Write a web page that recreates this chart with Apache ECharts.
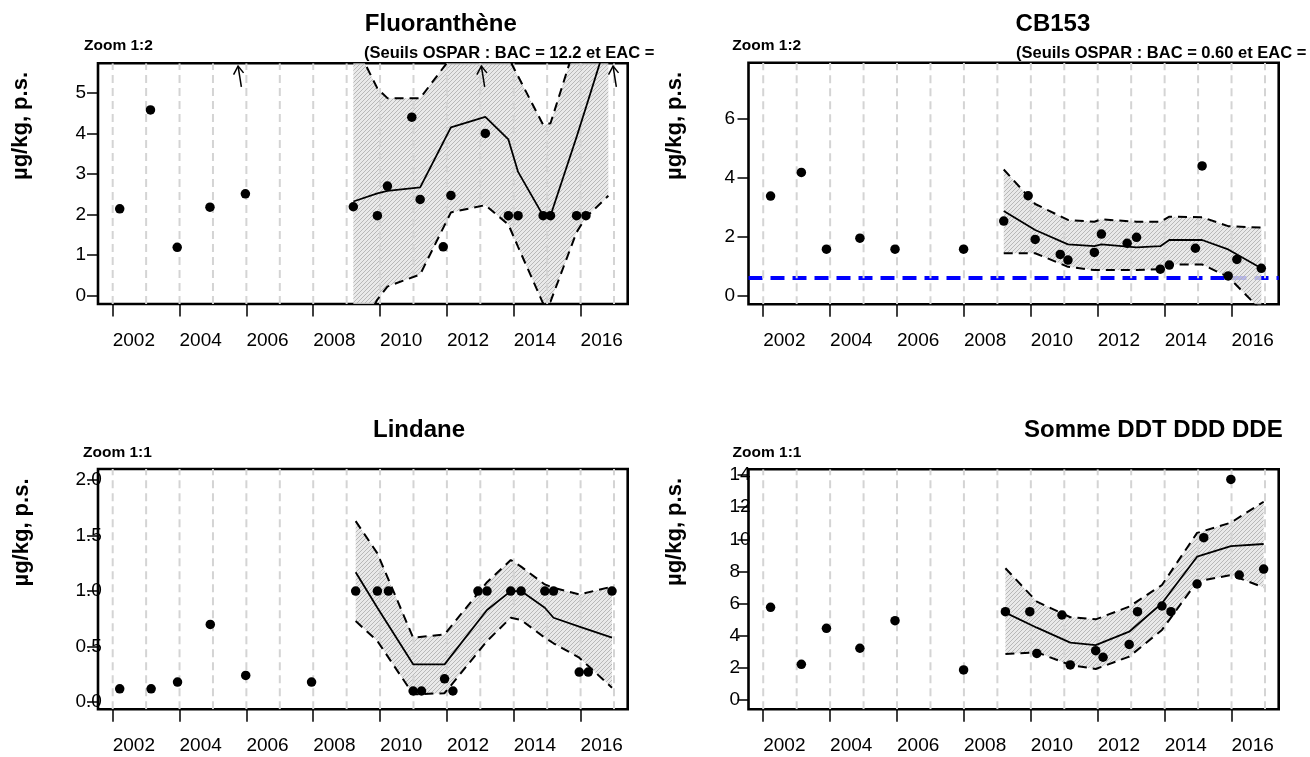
<!DOCTYPE html>
<html><head><meta charset="utf-8">
<script src="https://cdn.jsdelivr.net/npm/echarts@6/dist/echarts.min.js"></script>
<style>html,body{margin:0;padding:0;background:#fff;}#c{width:1310px;height:757px;}</style>
</head><body><div id="c"></div>
<script>
// ---------- data ----------
const yearTicks = [2002, 2004, 2006, 2008, 2010, 2012, 2014, 2016];
const gridYears = [2002, 2003, 2004, 2005, 2006, 2007, 2008, 2009, 2010, 2011, 2012, 2013, 2014, 2015, 2016, 2017];

const fluoYTicks = [0, 1, 2, 3, 4, 5];
const fluoDates = [2002.21, 2003.13, 2003.93, 2004.91, 2005.97, 2009.20, 2009.92, 2010.22, 2010.95, 2011.20, 2011.89, 2012.12, 2013.15, 2013.84, 2014.13, 2014.88, 2015.10, 2015.88, 2016.16];
const fluoValues = [2.14, 4.58, 1.19, 2.18, 2.51, 2.19, 1.97, 2.70, 4.40, 2.37, 1.20, 2.47, 4.00, 1.97, 1.97, 1.97, 1.97, 1.97, 1.97];
const fluoTrendDates = [2009.20, 2009.92, 2010.22, 2011.20, 2012.12, 2013.15, 2013.84, 2014.13, 2014.88, 2015.10, 2015.88, 2016.16, 2016.83];
const fluoMid = [2.32, 2.52, 2.58, 2.67, 4.15, 4.41, 3.85, 3.05, 1.97, 1.97, 3.91, 4.64, 6.40];
const fluoHigh = [6.30, 5.11, 4.87, 4.87, 5.87, 6.30, 5.87, 5.41, 4.21, 4.25, 6.28, 7.03, 8.85];
const fluoLow = [-1.20, -0.10, 0.22, 0.52, 2.05, 2.23, 1.75, 1.20, -0.20, -0.15, 1.56, 1.93, 2.46];
const fluoOutDates = [2005.85, 2013.13, 2017.07];

const cbYTicks = [0, 2, 4, 6];
const cbDates = [2002.22, 2003.14, 2003.89, 2004.89, 2005.94, 2007.99, 2009.19, 2009.92, 2010.13, 2010.88, 2011.11, 2011.90, 2012.11, 2012.88, 2013.16, 2013.87, 2014.14, 2014.92, 2015.12, 2015.90, 2016.16, 2016.89];
const cbValues = [3.38, 4.18, 1.58, 1.95, 1.58, 1.58, 2.53, 3.39, 1.91, 1.40, 1.21, 1.47, 2.09, 1.78, 1.98, 0.90, 1.04, 1.61, 4.40, 0.67, 1.23, 0.93];
const cbTrendDates = [2009.19, 2010.13, 2011.11, 2011.90, 2012.11, 2013.16, 2013.87, 2014.14, 2015.12, 2015.90, 2016.89];
const cbMid = [2.87, 2.23, 1.74, 1.68, 1.74, 1.64, 1.68, 1.89, 1.89, 1.57, 0.93];
const cbHigh = [4.28, 3.11, 2.57, 2.51, 2.59, 2.51, 2.51, 2.68, 2.66, 2.36, 2.31];
const cbLow = [1.44, 1.44, 0.98, 0.87, 0.87, 0.87, 0.90, 1.06, 1.06, 0.64, -0.50];
const cbBAC = 0.60;

const linYTicks = [0, 0.5, 1, 1.5, 2];
const linDates = [2002.21, 2003.15, 2003.94, 2004.92, 2005.98, 2007.95, 2009.27, 2009.92, 2010.25, 2010.99, 2011.24, 2011.93, 2012.18, 2012.93, 2013.20, 2013.91, 2014.22, 2014.93, 2015.19, 2015.96, 2016.23, 2016.94];
const linValues = [0.12, 0.12, 0.18, 0.70, 0.24, 0.18, 1.00, 1.00, 1.00, 0.10, 0.10, 0.21, 0.10, 1.00, 1.00, 1.00, 1.00, 1.00, 1.00, 0.27, 0.27, 1.00];
const linTrendDates = [2009.27, 2009.92, 2010.99, 2011.93, 2013.20, 2013.91, 2014.22, 2014.93, 2015.19, 2015.96, 2016.94];
const linMid = [1.17, 0.85, 0.34, 0.34, 0.83, 1.00, 1.00, 0.85, 0.76, 0.68, 0.58];
const linHigh = [1.63, 1.34, 0.58, 0.61, 1.08, 1.28, 1.22, 1.06, 1.03, 0.97, 1.04];
const linLow = [0.73, 0.55, 0.07, 0.08, 0.55, 0.76, 0.74, 0.58, 0.53, 0.40, 0.13];

const ddtYTicks = [0, 2, 4, 6, 8, 10, 12, 14];
const ddtDates = [2002.22, 2003.14, 2003.89, 2004.89, 2005.94, 2007.99, 2009.24, 2009.97, 2010.18, 2010.93, 2011.18, 2011.94, 2012.16, 2012.94, 2013.19, 2013.92, 2014.19, 2014.97, 2015.17, 2015.98, 2016.23, 2016.96];
const ddtValues = [5.77, 2.22, 4.46, 3.22, 4.94, 1.87, 5.50, 5.50, 2.90, 5.29, 2.18, 3.07, 2.66, 3.46, 5.50, 5.85, 5.50, 7.22, 10.10, 13.73, 7.78, 8.15];
const ddtTrendDates = [2009.24, 2010.18, 2011.18, 2011.94, 2012.94, 2013.92, 2014.97, 2015.98, 2016.96];
const ddtMid = [5.44, 4.50, 3.57, 3.42, 4.25, 6.02, 8.92, 9.58, 9.71];
const ddtHigh = [8.20, 6.12, 5.15, 5.02, 5.81, 7.16, 10.40, 11.04, 12.34];
const ddtLow = [2.86, 2.97, 2.18, 1.93, 2.70, 4.36, 7.37, 7.78, 7.01];

// ---------- layout / style ----------
const FF = '"Liberation Sans", Arial, Helvetica, sans-serif';
const xMin = 2001.56, xMax = 2017.41;
const pair = (xs, ys) => xs.map((x, i) => [x, ys[i]]);

function makeHatch() {
  const c = document.createElement('canvas');
  c.width = 4; c.height = 4;
  const g = c.getContext('2d');
  g.fillStyle = 'rgba(228,228,228,0.8)';
  g.fillRect(0, 0, 4, 4);
  g.strokeStyle = 'rgba(178,178,178,0.9)';
  g.lineWidth = 1;
  g.beginPath();
  g.moveTo(0, 4); g.lineTo(4, 0);
  g.moveTo(-1, 1); g.lineTo(1, -1);
  g.moveTo(3, 5); g.lineTo(5, 3);
  g.stroke();
  return c;
}
const hatch = { image: makeHatch(), repeat: 'repeat' };

const panels = [
  { left: 98, top: 63.3, width: 529.7, height: 240.7, yMin: -0.21, yMax: 5.73, yTicks: fluoYTicks, dec: 0, lm: 22.5,
    dates: fluoDates, values: fluoValues, tDates: fluoTrendDates, mid: fluoMid, high: fluoHigh, low: fluoLow, out: fluoOutDates },
  { left: 748.5, top: 62.7, width: 530.2, height: 241.6, yMin: -0.29, yMax: 7.90, yTicks: cbYTicks, dec: 0, lm: 24,
    dates: cbDates, values: cbValues, tDates: cbTrendDates, mid: cbMid, high: cbHigh, low: cbLow, bac: cbBAC },
  { left: 98, top: 469, width: 529.7, height: 240.3, yMin: -0.065, yMax: 2.10, yTicks: linYTicks, dec: 1, lm: 22.5,
    dates: linDates, values: linValues, tDates: linTrendDates, mid: linMid, high: linHigh, low: linLow },
  { left: 748.5, top: 469.3, width: 530.2, height: 240, yMin: -0.58, yMax: 14.36, yTicks: ddtYTicks, dec: 0, lm: 19,
    dates: ddtDates, values: ddtValues, tDates: ddtTrendDates, mid: ddtMid, high: ddtHigh, low: ddtLow }
];

const grids = [], xAxes = [], yAxes = [], series = [];
panels.forEach((p, i) => {
  grids.push({ left: p.left, top: p.top, width: p.width, height: p.height, show: true,
    borderColor: '#000', borderWidth: 2.6, backgroundColor: 'transparent', containLabel: false });
  xAxes.push({ type: 'value', gridIndex: i, min: xMin, max: xMax, position: 'bottom', z: 1,
    axisLine: { show: false, onZero: false }, splitLine: { show: false },
    axisTick: { show: true, customValues: yearTicks, length: 12.5, lineStyle: { color: '#000', width: 1.5 } },
    axisLabel: { show: true, customValues: yearTicks, align: 'left', margin: 27, fontSize: 19, fontFamily: FF, color: '#000',
      formatter: v => String(Math.round(v)) } });
  yAxes.push({ type: 'value', gridIndex: i, min: p.yMin, max: p.yMax, position: 'left', z: 1,
    axisLine: { show: false, onZero: false }, splitLine: { show: false },
    axisTick: { show: true, customValues: p.yTicks, length: 11, lineStyle: { color: '#000', width: 1.5 } },
    axisLabel: { show: true, customValues: p.yTicks, align: 'left', margin: p.lm, fontSize: 19, fontFamily: FF, color: '#000',
      formatter: v => v.toFixed(p.dec) } });

  // hatched confidence band
  series.push({ type: 'custom', xAxisIndex: i, yAxisIndex: i, z: 2, silent: true, clip: true,
    data: [[p.tDates[0], p.mid[0]]],
    renderItem: (params, api) => {
      const up = p.tDates.map((d, k) => api.coord([d, p.high[k]]));
      const lo = p.tDates.map((d, k) => api.coord([d, p.low[k]])).reverse();
      return { type: 'polygon', shape: { points: up.concat(lo) }, style: { fill: hatch, stroke: null } };
    } });

  // BAC threshold line
  if (p.bac !== undefined) {
    series.push({ type: 'custom', xAxisIndex: i, yAxisIndex: i, z: 1, silent: true, clip: true,
      data: [[xMin, p.bac]],
      renderItem: (params, api) => {
        const a = api.coord([xMin, api.value(1)]), b = api.coord([xMax, api.value(1)]);
        return { type: 'line', shape: { x1: a[0], y1: a[1], x2: b[0], y2: b[1] },
          style: { stroke: '#0000ff', lineWidth: 4, lineDash: [14, 8] } };
      } });
  }

  // vertical dashed grid lines (over the band)
  series.push({ type: 'custom', xAxisIndex: i, yAxisIndex: i, z: 3, silent: true, clip: true,
    data: gridYears.map(y => [y, p.yMin]),
    renderItem: (params, api) => {
      const x = api.value(0);
      const a = api.coord([x, p.yMin]), b = api.coord([x, p.yMax]);
      return { type: 'line', shape: { x1: a[0], y1: a[1], x2: b[0], y2: b[1] },
        style: { stroke: '#d4d4d4', lineWidth: 2, lineDash: [8, 5] } };
    } });

  const dashStyle = { color: '#000', width: 2, type: [9, 6] };
  series.push({ type: 'line', xAxisIndex: i, yAxisIndex: i, z: 4, silent: true, symbol: 'none', clip: true,
    data: pair(p.tDates, p.high), lineStyle: dashStyle });
  series.push({ type: 'line', xAxisIndex: i, yAxisIndex: i, z: 4, silent: true, symbol: 'none', clip: true,
    data: pair(p.tDates, p.low), lineStyle: dashStyle });
  series.push({ type: 'line', xAxisIndex: i, yAxisIndex: i, z: 4, silent: true, symbol: 'none', clip: true,
    data: pair(p.tDates, p.mid), lineStyle: { color: '#000', width: 1.8 } });
  series.push({ type: 'scatter', xAxisIndex: i, yAxisIndex: i, z: 5, silent: true, symbol: 'circle', symbolSize: 9.5,
    data: pair(p.dates, p.values), itemStyle: { color: '#000', opacity: 1 } });

  if (p.out) {
    series.push({ type: 'custom', xAxisIndex: i, yAxisIndex: i, z: 5, silent: true, clip: false,
      data: p.out.map(d => [d, p.yMax]),
      renderItem: (params, api) => {
        const b = api.coord([api.value(0), api.value(1)]);
        const bx = b[0], by = b[1] + 23.5;
        const tx = b[0] - 3.3, ty = b[1] + 2.8;
        return { type: 'group', children: [
          { type: 'line', shape: { x1: bx, y1: by, x2: tx, y2: ty }, style: { stroke: '#000', lineWidth: 1.5 } },
          { type: 'polyline', shape: { points: [[tx - 4.5, ty + 8.5], [tx, ty], [tx + 5.5, ty + 6.8]] },
            style: { stroke: '#000', lineWidth: 1.5, fill: null } }
        ] };
      } });
  }
});

function txt(x, y, text, font, align, rot) {
  return { type: 'text', x: x, y: y, rotation: rot || 0, z: 50,
    style: { text: text, font: font, fill: '#000', align: align || 'left', verticalAlign: 'middle',
      textAlign: align || 'left', textVerticalAlign: 'middle' } };
}
const TB = 'bold 24px ' + FF, SB = 'bold 16.5px ' + FF, ZB = 'bold 15.5px ' + FF, YB = 'bold 22px ' + FF;
const graphic = [
  txt(364.8, 24.5, 'Fluoranthène', TB),
  txt(364, 53, '(Seuils OSPAR : BAC = 12.2 et EAC =', SB),
  txt(84, 45.5, 'Zoom 1:2', ZB),
  txt(21, 126, 'µg/kg, p.s.', YB, 'center', Math.PI / 2),
  txt(1015.6, 24.5, 'CB153', TB),
  txt(1016, 53, '(Seuils OSPAR : BAC = 0.60 et EAC =', SB),
  txt(732.3, 45.5, 'Zoom 1:2', ZB),
  txt(675, 126, 'µg/kg, p.s.', YB, 'center', Math.PI / 2),
  txt(373, 430.5, 'Lindane', TB),
  txt(83, 452.5, 'Zoom 1:1', ZB),
  txt(22, 532.5, 'µg/kg, p.s.', YB, 'center', Math.PI / 2),
  txt(1024, 430, 'Somme DDT DDD DDE', TB),
  txt(732.6, 452.5, 'Zoom 1:1', ZB),
  txt(675, 532, 'µg/kg, p.s.', YB, 'center', Math.PI / 2),
  { type: 'rect', z: 60, shape: { x: 657, y: 43, width: 40, height: 20 }, style: { fill: '#fff' } }
];

const chart = echarts.init(document.getElementById('c'), null, { renderer: 'canvas' });
chart.setOption({
  animation: false,
  backgroundColor: '#fff',
  grid: grids, xAxis: xAxes, yAxis: yAxes, series: series, graphic: graphic
});
</script></body></html>
